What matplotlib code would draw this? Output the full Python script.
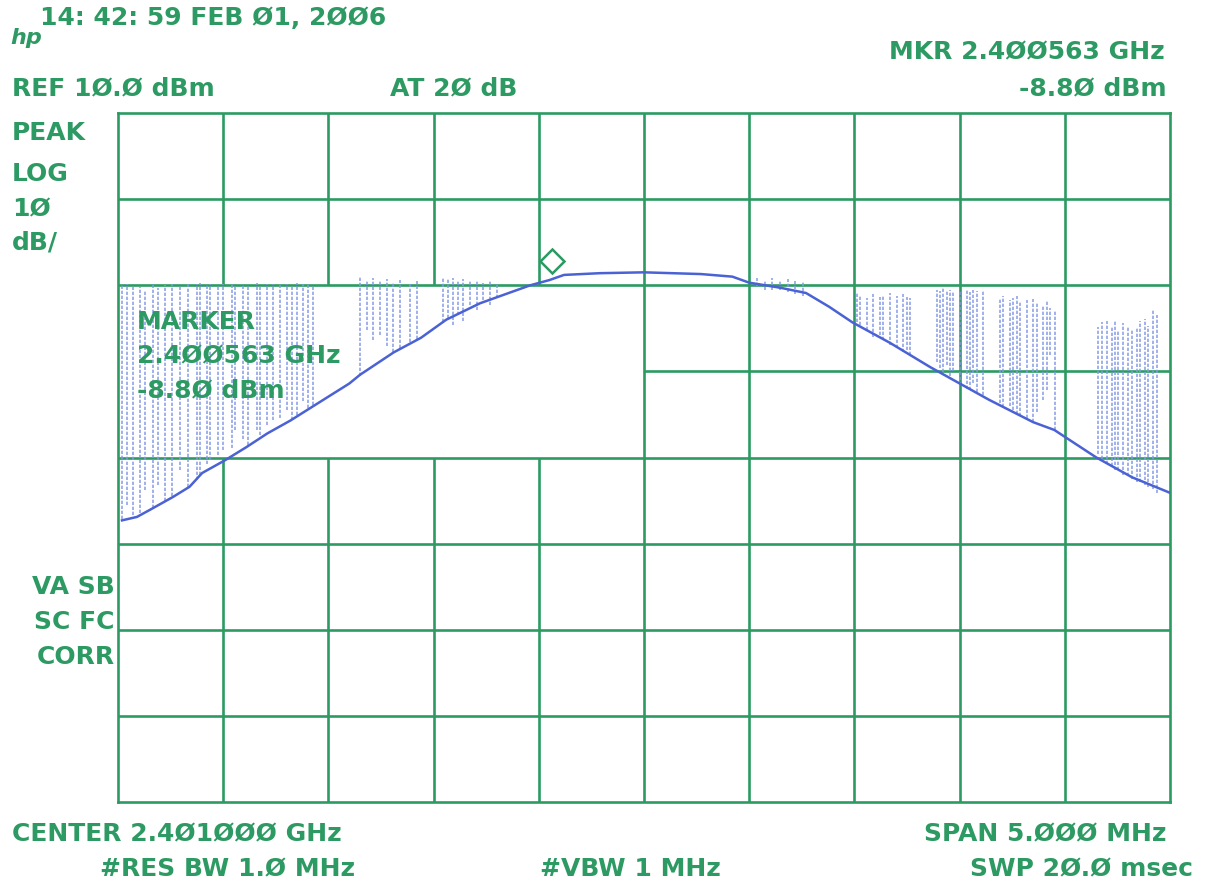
import matplotlib
matplotlib.use("Agg")
import matplotlib.pyplot as plt
from matplotlib.transforms import offset_copy

# ---------------- data (frequency offset from centre in MHz, level in dBm) -------------
center_ghz = 2.401
span_mhz = 5.0
ref_level = 10.0
db_per_div = 10.0

# lower envelope of the swept trace
base_freq = [-2.481, -2.41, -2.35, -2.24, -2.16, -2.10, -1.99, -1.89, -1.79, -1.68,
             -1.55, -1.40, -1.35, -1.19, -1.06, -0.94, -0.78, -0.70, -0.54, -0.45,
             -0.38, -0.21, 0.0, 0.27, 0.42, 0.50, 0.65, 0.77, 0.88, 0.99,
             1.17, 1.36, 1.64, 1.85, 1.95, 2.15, 2.32, 2.50]
base_level = [-37.3, -36.9, -36.1, -34.6, -33.4, -31.8, -30.3, -28.8, -27.2, -25.7,
              -23.7, -21.4, -20.4, -17.8, -16.1, -14.0, -12.1, -11.4, -10.0, -9.4,
              -8.8, -8.6, -8.5, -8.7, -9.0, -9.7, -10.3, -10.9, -12.5, -14.3,
              -16.7, -19.5, -23.3, -25.9, -26.8, -30.0, -32.3, -34.1]

# burst spikes: frequency, top level, bottom level
spike_freq = [
    -2.481, -2.457, -2.429, -2.395, -2.371, -2.333, -2.310, -2.276, -2.243, -2.205,
    -2.167, -2.124, -2.110, -2.076, -2.063, -2.025, -2.001, -1.958, -1.944, -1.906,
    -1.882, -1.839, -1.825, -1.792, -1.763, -1.730, -1.697, -1.673, -1.649, -1.621,
    -1.597, -1.573,
    -1.350, -1.317, -1.288, -1.255, -1.221, -1.193, -1.160, -1.112, -1.079, -0.955,
    -0.932, -0.908, -0.884, -0.860, -0.827, -0.794, -0.765, -0.732, -0.699,
    0.537, 0.575, 0.608, 0.646, 0.684, 0.718, 0.756,
    1.012, 1.027, 1.060, 1.088, 1.122, 1.136, 1.169, 1.203, 1.231, 1.250,
    1.264, 1.393, 1.407, 1.421, 1.440, 1.454, 1.469, 1.502, 1.535, 1.549,
    1.564, 1.583, 1.611, 1.692, 1.706, 1.740, 1.754, 1.773, 1.787, 1.820,
    1.849, 1.868, 1.897, 1.915, 1.930, 1.953,
    2.158, 2.177, 2.200, 2.224, 2.239, 2.253, 2.277, 2.300, 2.319, 2.343,
    2.357, 2.381, 2.395, 2.419, 2.438]
spike_top = [
    -10.0, -9.8, -10.0, -10.2, -10.6, -9.9, -10.3, -10.0, -9.8, -10.1,
    -9.9, -9.8, -9.7, -10.0, -9.9, -10.1, -9.8, -9.9, -10.1, -9.8,
    -10.0, -9.7, -10.1, -9.8, -9.9, -9.7, -9.8, -10.0, -9.7, -9.8,
    -9.9, -10.0,
    -9.1, -9.4, -9.2, -9.5, -9.3, -9.7, -9.4, -9.8, -9.5, -9.1,
    -9.3, -9.2, -9.4, -9.3, -9.5, -9.4, -9.7, -9.5, -9.7,
    -9.2, -9.4, -9.2, -9.4, -9.3, -9.5, -9.6,
    -10.9, -11.2, -11.5, -11.0, -11.4, -11.3, -10.9, -11.3, -11.0, -11.4,
    -11.5, -10.5, -10.7, -10.3, -10.6, -10.5, -10.7, -10.6, -10.5, -10.8,
    -10.6, -10.7, -10.6, -11.5, -11.3, -11.7, -11.5, -11.2, -11.9, -11.7,
    -11.6, -12.0, -12.3, -11.7, -12.6, -12.9,
    -14.9, -14.3, -14.1, -14.7, -14.1, -15.2, -14.4, -14.7, -15.2, -14.9,
    -14.1, -13.9, -14.7, -12.9, -13.5]
spike_bottom = [
    -37.1, -35.5, -36.7, -36.4, -33.8, -35.9, -33.2, -35.0, -34.5, -31.4,
    -33.4, -32.6, -32.0, -30.8, -30.3, -29.7, -29.1, -28.9, -26.8, -27.9,
    -28.5, -26.8, -27.4, -26.2, -25.7, -25.4, -24.5, -25.7, -25.1, -23.4,
    -24.3, -23.9,
    -20.5, -15.2, -16.4, -15.8, -17.0, -17.8, -17.3, -16.6, -16.2, -14.3,
    -13.8, -14.6, -13.5, -14.1, -12.3, -12.9, -11.7, -12.3, -11.5,
    -10.1, -10.5, -10.6, -10.5, -10.8, -11.0, -11.2,
    -14.3, -14.6, -15.2, -16.0, -15.8, -16.4, -16.9, -17.3, -17.8, -17.5,
    -18.1, -18.9, -19.6, -20.1, -19.3, -20.5, -19.9, -21.6, -22.0, -22.2,
    -21.4, -22.4, -22.8, -23.7, -24.1, -24.0, -24.5, -24.9, -25.2, -25.4,
    -25.9, -24.7, -23.3, -22.2, -18.1, -26.8,
    -29.6, -30.2, -30.8, -31.0, -31.4, -31.5, -32.0, -32.2, -32.5, -32.8,
    -32.9, -33.2, -33.4, -33.7, -34.1]

marker_freq = -0.437   # 2.400563 GHz
marker_level = -8.80

# ---------------- style ----------------
W, H = 1207, 890
GREEN = "#2c9a62"
TRACE = "#4a62d4"
SPIKE = "#8499e6"

fig = plt.figure(figsize=(W / 100, H / 100), dpi=100)
fig.patch.set_facecolor("white")
L, R, T, B = 118, 1170, 113, 802
ax = fig.add_axes([L / W, 1 - B / H, (R - L) / W, (B - T) / H])

x0, x1 = -span_mhz / 2, span_mhz / 2
y1 = ref_level
y0 = ref_level - 8 * db_per_div
ax.set_xlim(x0, x1)
ax.set_ylim(y0, y1)
ax.set_xticks([])
ax.set_yticks([])
for s in ax.spines.values():
    s.set_color(GREEN)
    s.set_linewidth(1.9)

# graticule with the blanked annotation area (left half, 2nd-4th division)
blank_x = 0.0
blank_top, blank_bot = y1 - 2 * db_per_div, y1 - 4 * db_per_div
for i in range(1, 10):
    xv = x0 + i * span_mhz / 10
    if xv < blank_x - 1e-9:
        ax.vlines(xv, blank_top, y1, color=GREEN, lw=1.9, zorder=1)
        ax.vlines(xv, y0, blank_bot, color=GREEN, lw=1.9, zorder=1)
    else:
        ax.vlines(xv, y0, y1, color=GREEN, lw=1.9, zorder=1)
for j in range(1, 8):
    yv = y1 - j * db_per_div
    if blank_bot < yv < blank_top:
        ax.hlines(yv, blank_x, x1, color=GREEN, lw=1.9, zorder=1)
    else:
        ax.hlines(yv, x0, x1, color=GREEN, lw=1.9, zorder=1)

# trace
ax.vlines(spike_freq, spike_bottom, spike_top, color=SPIKE, lw=1.2,
          linestyles=(0, (2, 1)), alpha=0.9, zorder=2)
ax.plot(base_freq, base_level, color=TRACE, lw=1.8, zorder=3)

# marker diamond sitting on the trace
mtrans = offset_copy(ax.transData, fig=fig, x=0, y=14, units="dots")
ax.plot([marker_freq], [marker_level], marker="D", ms=12.5, mfc="none",
        mec=GREEN, mew=1.8, transform=mtrans, zorder=4)

# ---------------- annotation text ----------------
FONT = dict(family="DejaVu Sans", weight="bold", color=GREEN, fontsize=18)


def txt(x, y, s, ha="left", **kw):
    d = dict(FONT)
    d.update(kw)
    fig.text(x / W, 1 - y / H, s, ha=ha, va="center", **d)


txt(40, 18, "14: 42: 59 FEB Ø1, 2ØØ6")
txt(10, 38, "hp", style="italic", fontsize=16)
txt(12, 88, "REF 1Ø.Ø dBm")
txt(390, 88, "AT 2Ø dB")
txt(1165, 52, "MKR 2.4ØØ563 GHz", ha="right")
txt(1167, 88, "-8.8Ø dBm", ha="right")
txt(12, 133, "PEAK")
txt(12, 174, "LOG")
txt(12, 209, "1Ø")
txt(12, 243, "dB/")
txt(115, 587, "VA SB", ha="right")
txt(115, 622, "SC FC", ha="right")
txt(115, 657, "CORR", ha="right")
txt(137, 322, "MARKER")
txt(137, 356, "2.4ØØ563 GHz")
txt(137, 390, "-8.8Ø dBm")
txt(12, 834, "CENTER 2.4Ø1ØØØ GHz")
txt(1167, 834, "SPAN 5.ØØØ MHz", ha="right")
txt(100, 869, "#RES BW 1.Ø MHz")
txt(540, 869, "#VBW 1 MHz")
txt(1193, 869, "SWP 2Ø.Ø msec", ha="right")

fig.savefig("out.png", dpi=100, facecolor="white")
